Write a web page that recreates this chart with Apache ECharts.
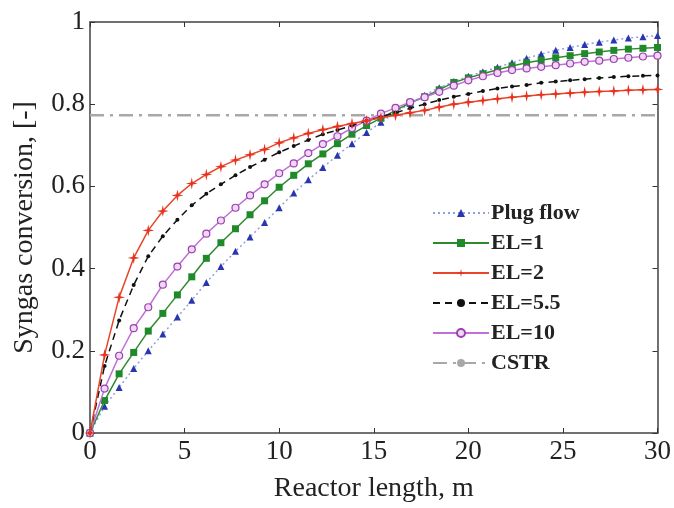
<!DOCTYPE html>
<html>
<head>
<meta charset="utf-8">
<script src="https://cdn.jsdelivr.net/npm/echarts@6/dist/echarts.min.js"></script>
<style>html,body{margin:0;padding:0;background:#fff}#c{width:674px;height:508px}</style>
</head>
<body>
<div id="c"></div>
<script>
// Reactor length positions of the markers (m)
var lengths = [0, 0.77, 1.54, 2.31, 3.08, 3.85, 4.62, 5.38, 6.15, 6.92, 7.69, 8.46, 9.23, 10, 10.77, 11.54, 12.31, 13.08, 13.85, 14.62, 15.38, 16.15, 16.92, 17.69, 18.46, 19.23, 20, 20.77, 21.54, 22.31, 23.08, 23.85, 24.62, 25.38, 26.15, 26.92, 27.69, 28.46, 29.23, 30];
var plugFlow = [0, 0.065, 0.111, 0.157, 0.2, 0.241, 0.282, 0.323, 0.366, 0.405, 0.442, 0.477, 0.512, 0.548, 0.584, 0.616, 0.646, 0.676, 0.704, 0.731, 0.756, 0.78, 0.802, 0.822, 0.84, 0.855, 0.868, 0.879, 0.89, 0.901, 0.912, 0.922, 0.931, 0.938, 0.945, 0.951, 0.956, 0.961, 0.964, 0.967];
var el1 = [0, 0.079, 0.144, 0.196, 0.248, 0.291, 0.336, 0.38, 0.425, 0.463, 0.497, 0.531, 0.565, 0.598, 0.627, 0.655, 0.679, 0.704, 0.727, 0.748, 0.766, 0.785, 0.803, 0.818, 0.835, 0.853, 0.864, 0.874, 0.884, 0.893, 0.901, 0.907, 0.913, 0.918, 0.923, 0.927, 0.931, 0.934, 0.936, 0.938];
var el2 = [0, 0.19, 0.33, 0.426, 0.493, 0.54, 0.578, 0.607, 0.629, 0.648, 0.664, 0.677, 0.69, 0.706, 0.718, 0.729, 0.738, 0.746, 0.753, 0.76, 0.767, 0.773, 0.779, 0.785, 0.793, 0.8, 0.805, 0.809, 0.813, 0.817, 0.82, 0.823, 0.825, 0.827, 0.829, 0.831, 0.832, 0.834, 0.835, 0.836];
var el55 = [0, 0.163, 0.274, 0.36, 0.43, 0.479, 0.519, 0.554, 0.582, 0.605, 0.627, 0.647, 0.665, 0.683, 0.698, 0.713, 0.727, 0.737, 0.748, 0.76, 0.769, 0.779, 0.79, 0.8, 0.81, 0.818, 0.825, 0.832, 0.838, 0.843, 0.847, 0.852, 0.855, 0.858, 0.861, 0.864, 0.866, 0.868, 0.869, 0.87];
var el10 = [0, 0.108, 0.188, 0.255, 0.306, 0.361, 0.405, 0.447, 0.485, 0.517, 0.548, 0.578, 0.605, 0.632, 0.656, 0.681, 0.703, 0.722, 0.742, 0.76, 0.777, 0.791, 0.805, 0.817, 0.83, 0.845, 0.858, 0.868, 0.876, 0.883, 0.887, 0.891, 0.895, 0.899, 0.903, 0.906, 0.91, 0.913, 0.916, 0.918];
var cstrLength = [0, 30];
var cstrValue = [0.773, 0.773];
var seriesNames = ['Plug flow', 'EL=1', 'EL=2', 'EL=5.5', 'EL=10', 'CSTR'];
var xTicks = [0, 5, 10, 15, 20, 25, 30];
var yTicks = [0, 0.2, 0.4, 0.6, 0.8, 1];

function pairs(xs, ys) { return xs.map(function (x, i) { return [x, ys[i]]; }); }

var FONT = '"Liberation Serif", "Times New Roman", serif';
var AXC = '#707070';
var chart = echarts.init(document.getElementById('c'), null, { renderer: 'canvas' });
var star = 'path://M0,-10 L1.8,-1.8 L10,0 L1.8,1.8 L0,10 L-1.8,1.8 L-10,0 L-1.8,-1.8 Z';

var baseAxisX = {
  type: 'value', min: xTicks[0], max: xTicks[xTicks.length - 1], interval: xTicks[1] - xTicks[0],
  axisLine: { show: true, onZero: false, lineStyle: { color: AXC, width: 2 } },
  axisTick: { show: true, inside: true, length: 5, lineStyle: { color: '#333', width: 1 } },
  splitLine: { show: false }
};
var baseAxisY = {
  type: 'value', min: yTicks[0], max: yTicks[yTicks.length - 1], interval: yTicks[1] - yTicks[0],
  axisLine: { show: true, onZero: false, lineStyle: { color: AXC, width: 2 } },
  axisTick: { show: true, inside: true, length: 5, lineStyle: { color: '#333', width: 1 } },
  splitLine: { show: false }
};

chart.setOption({
  animation: false,
  backgroundColor: '#fff',
  grid: { left: 90, right: 16, top: 22, bottom: 64, containLabel: false },
  legend: {
    orient: 'vertical', left: 427, top: 197, itemGap: 8, itemWidth: 56, itemHeight: 10,
    data: seriesNames,
    textStyle: { fontFamily: FONT, fontSize: 22, fontWeight: 'bold', color: '#222', padding: [0, 0, 0, -3] }
  },
  xAxis: [
    Object.assign({}, baseAxisX, {
      position: 'bottom',
      name: 'Reactor length, m', nameLocation: 'middle', nameGap: 42,
      nameTextStyle: { fontFamily: FONT, fontSize: 28, color: '#222' },
      axisLabel: { fontFamily: FONT, fontSize: 27, color: '#222', margin: 5 }
    }),
    Object.assign({}, baseAxisX, { position: 'top', axisLabel: { show: false } })
  ],
  yAxis: [
    Object.assign({}, baseAxisY, {
      position: 'left',
      name: 'Syngas conversion, [-]', nameLocation: 'middle', nameGap: 51,
      nameTextStyle: { fontFamily: FONT, fontSize: 28, color: '#222' },
      axisLabel: { fontFamily: FONT, fontSize: 27, color: '#222', margin: 5 }
    }),
    Object.assign({}, baseAxisY, { position: 'right', axisLabel: { show: false } })
  ],
  series: [
    {
      name: seriesNames[5], type: 'line', data: pairs(cstrLength, cstrValue), symbol: 'none', z: 1,
      lineStyle: { color: '#a8a8a8', width: 2.5, type: [14, 6, 3, 6] }, itemStyle: { color: '#a8a8a8' }
    },
    {
      name: seriesNames[0], type: 'line', data: pairs(lengths, plugFlow), symbol: 'triangle', symbolSize: 7, z: 2,
      lineStyle: { color: '#8fa0e0', width: 1.5, type: [2, 3] }, itemStyle: { color: '#2a36b0' }
    },
    {
      name: seriesNames[1], type: 'line', data: pairs(lengths, el1), symbol: 'rect', symbolSize: 7, z: 3,
      lineStyle: { color: '#2f8a2f', width: 1.5 }, itemStyle: { color: '#1f8a2a' }
    },
    {
      name: seriesNames[4], type: 'line', data: pairs(lengths, el10), symbol: 'circle', symbolSize: 7, z: 4,
      lineStyle: { color: '#c070d8', width: 1.5 }, itemStyle: { color: '#f0d8f4', borderColor: '#9a40b0', borderWidth: 1.2 }
    },
    {
      name: seriesNames[3], type: 'line', data: pairs(lengths, el55), symbol: 'circle', symbolSize: 4, z: 5,
      lineStyle: { color: '#111', width: 1.5, type: [7, 5] }, itemStyle: { color: '#111' }
    },
    {
      name: seriesNames[2], type: 'line', data: pairs(lengths, el2), symbol: star, symbolSize: 12, z: 6,
      lineStyle: { color: '#e8452a', width: 1.5 }, itemStyle: { color: '#e8321e' }
    }
  ]
});
</script>
</body>
</html>
